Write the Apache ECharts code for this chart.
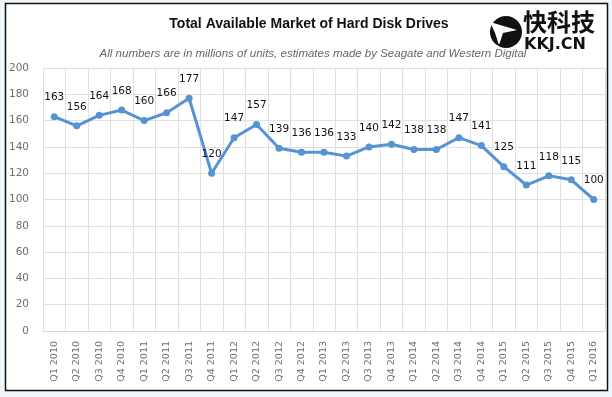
<!DOCTYPE html>
<html>
<head>
<meta charset="utf-8">
<script src="https://cdn.jsdelivr.net/npm/echarts@6/dist/echarts.min.js"></script>
<style>
  html, body { margin: 0; padding: 0; background: #eef5fb; }
  #chart { width: 612px; height: 397px; }
</style>
</head>
<body>
<div id="chart"></div>
<script>
const quarters = [
  'Q1 2010', 'Q2 2010', 'Q3 2010', 'Q4 2010',
  'Q1 2011', 'Q2 2011', 'Q3 2011', 'Q4 2011',
  'Q1 2012', 'Q2 2012', 'Q3 2012', 'Q4 2012',
  'Q1 2013', 'Q2 2013', 'Q3 2013', 'Q4 2013',
  'Q1 2014', 'Q2 2014', 'Q3 2014', 'Q4 2014',
  'Q1 2015', 'Q2 2015', 'Q3 2015', 'Q4 2015',
  'Q1 2016'
];
const units = [
  163, 156, 164, 168,
  160, 166, 177, 120,
  147, 157, 139, 136,
  136, 133, 140, 142,
  138, 138, 147, 141,
  125, 111, 118, 115,
  100
];
const yTicks = { min: 0, max: 200, interval: 20 };

const titleText = 'Total Available Market of Hard Disk Drives';
const subtitleText = 'All numbers are in millions of units, estimates made by Seagate and Western Digital';

const chart = echarts.init(document.getElementById('chart'));

chart.setOption({
  backgroundColor: '#eef5fb',
  animation: false,
  graphic: [
    {
      type: 'rect',
      shape: { x: 5.5, y: 3.5, width: 602, height: 387 },
      style: { fill: '#ffffff', stroke: '#111111', lineWidth: 1.5 },
      z: -10
    },
    {
      type: 'circle',
      shape: { cx: 506, cy: 32, r: 16 },
      style: { fill: '#111111' }
    },
    {
      type: 'polygon',
      shape: { points: [[490, 22], [517, 30], [503, 33], [499, 45], [495, 33]] },
      style: { fill: '#ffffff' }
    },
    {
      type: 'text',
      left: 523, top: 10,
      style: { text: '快科技', fill: '#111111', font: 'bold 24px "Noto Sans CJK SC"' }
    },
    {
      type: 'text',
      left: 524, top: 37,
      style: { text: 'KKJ.CN', fill: '#111111', font: '900 16px "DejaVu Sans"' }
    }
  ],
  title: [
    {
      text: titleText,
      left: 304, top: 12, textAlign: 'center',
      textStyle: { fontFamily: 'Liberation Sans', fontSize: 14, fontWeight: 'bold', color: '#111111' }
    },
    {
      text: subtitleText,
      left: 308, top: 43, textAlign: 'center',
      textStyle: { fontFamily: 'Liberation Sans', fontSize: 11.5, fontStyle: 'italic', fontWeight: 'normal', color: '#666666' }
    }
  ],
  grid: { left: 43, right: 7, top: 68, bottom: 66, containLabel: false },
  xAxis: {
    type: 'category',
    data: quarters,
    boundaryGap: true,
    axisLine: { lineStyle: { color: '#d9d9d9' } },
    axisTick: { show: false },
    splitLine: { show: true, lineStyle: { color: '#e0e0e0' } },
    axisLabel: {
      rotate: 90, margin: 10, interval: 0,
      fontFamily: 'DejaVu Sans', fontSize: 9.5, color: '#6e6e6e'
    }
  },
  yAxis: {
    type: 'value',
    min: yTicks.min, max: yTicks.max, interval: yTicks.interval,
    axisLine: { show: false },
    axisTick: { show: false },
    splitLine: { lineStyle: { color: '#e0e0e0' } },
    axisLabel: { margin: 14, fontFamily: 'DejaVu Sans', fontSize: 10.5, color: '#6e6e6e' }
  },
  series: [{
    type: 'line',
    data: units,
    symbol: 'circle',
    symbolSize: 7,
    lineStyle: { color: '#5593d3', width: 3 },
    itemStyle: { color: '#5593d3' },
    label: {
      show: true, position: 'top', distance: 10,
      fontFamily: 'DejaVu Sans', fontSize: 10.5, color: '#111111'
    }
  }]
});
</script>
</body>
</html>
